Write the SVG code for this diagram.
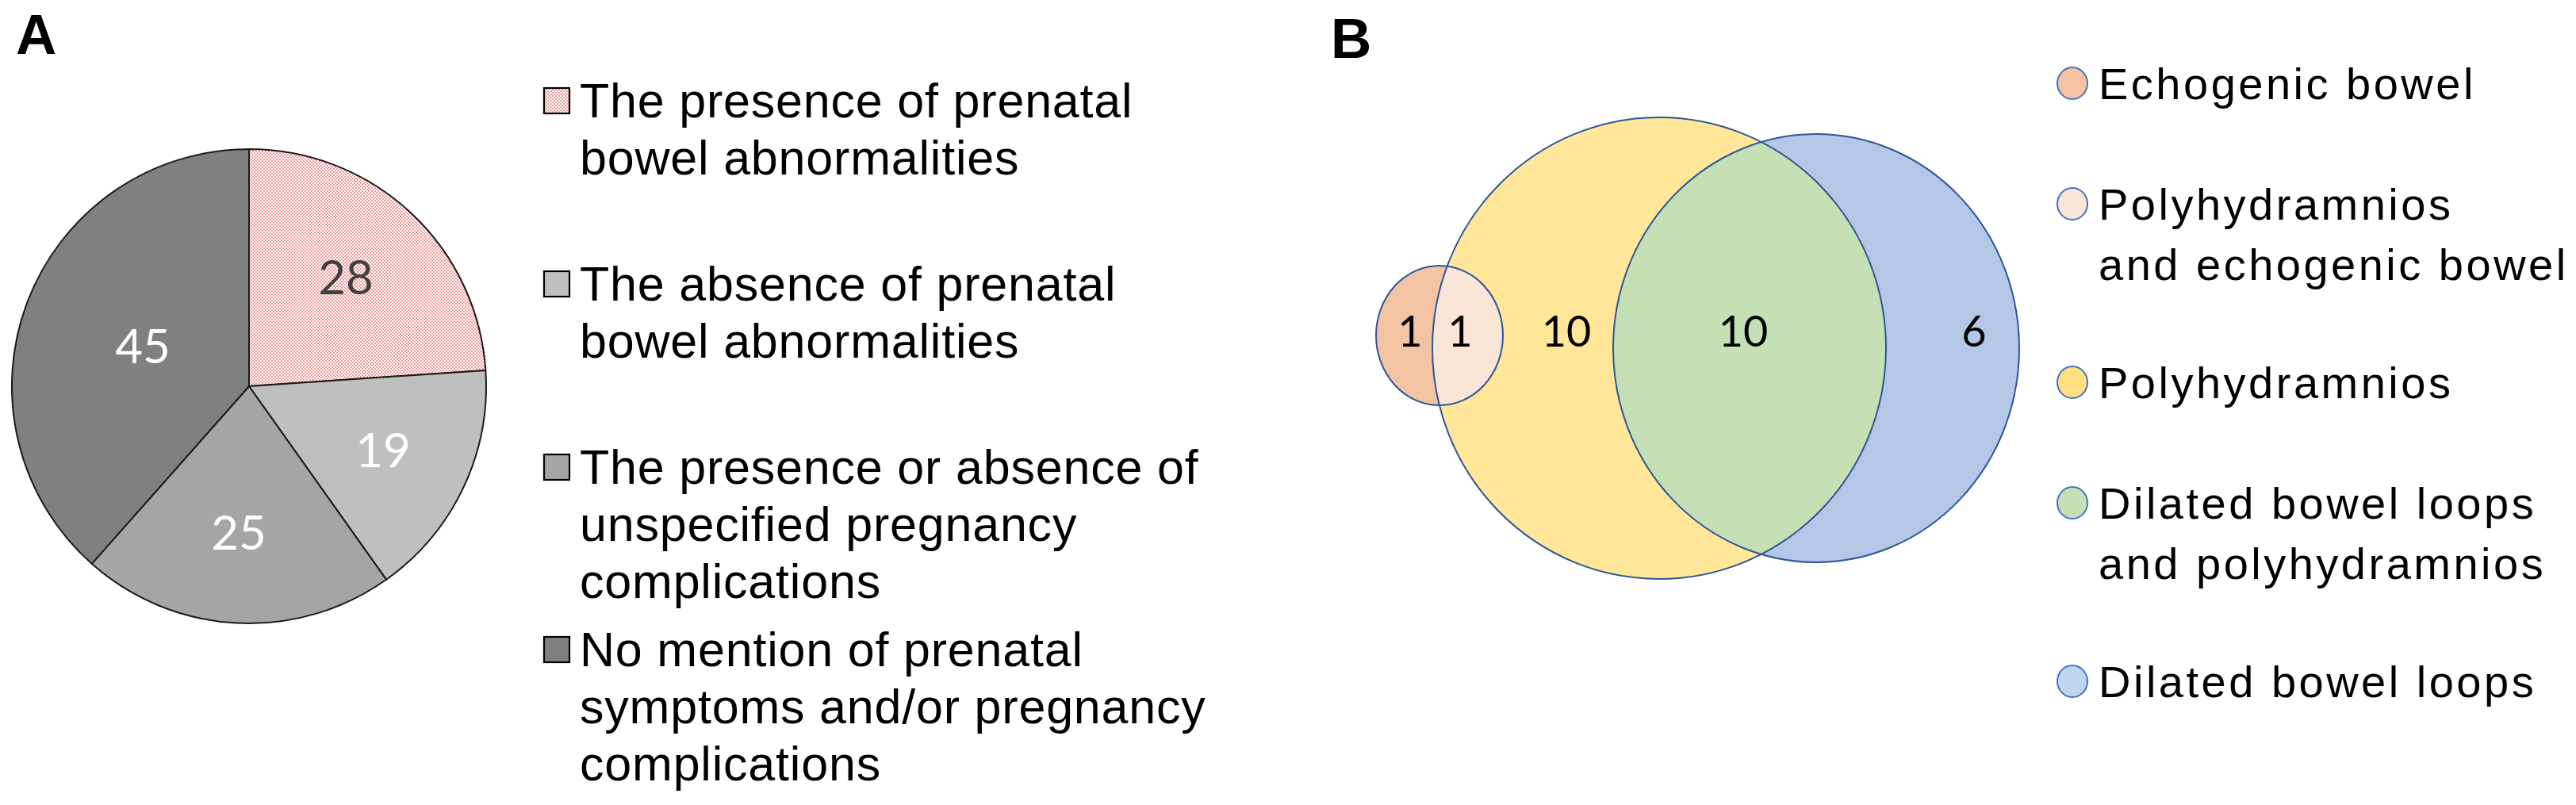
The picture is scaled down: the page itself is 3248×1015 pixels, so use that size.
<svg xmlns="http://www.w3.org/2000/svg" width="3248" height="1015" viewBox="0 0 3248 1015">
<style>
.panel{font-family:"Liberation Sans",Arial,sans-serif;font-weight:bold;font-size:71px;fill:#000}
.legA{font-family:"Liberation Sans",Arial,sans-serif;font-size:61px;letter-spacing:0.8px;fill:#000}
.legB{font-family:"Liberation Sans",Arial,sans-serif;font-size:56px;letter-spacing:3.5px;fill:#000}
.pielab{font-family:Lato,"Open Sans",sans-serif;font-size:60px;text-anchor:middle}
.vlab{font-family:Lato,"Open Sans",sans-serif;font-size:54px;text-anchor:middle;fill:#000}
.slice{stroke:#1a1a1a;stroke-width:2;stroke-linejoin:round}
.sw{stroke:#000;stroke-width:2.2}
.vline{fill:none;stroke:#2f5597;stroke-width:2}
.lc{stroke:#4472c4;stroke-width:2}
</style>
<defs>
<pattern id="chk" width="4" height="4" patternUnits="userSpaceOnUse">
<rect width="4" height="4" fill="#ffffff"/>
<rect x="0" y="0" width="2" height="2" fill="#ef9a9a"/>
<rect x="2" y="2" width="2" height="2" fill="#ef9a9a"/>
</pattern>
<clipPath id="clipBlue"><ellipse cx="2290" cy="439" rx="256" ry="270"/></clipPath>
<clipPath id="clipYellow"><ellipse cx="2092" cy="439" rx="286" ry="291"/></clipPath>
</defs>
<rect width="3248" height="1015" fill="#fff"/>

<g id="panel-A-label"><text class="panel" x="20" y="68">A</text></g>

<g id="pie">
<path id="slice-28" class="slice" fill="url(#chk)" d="M314,487 L314,188 A299,299 0 0,1 612.3,466.9 Z"/>
<path id="slice-19" class="slice" fill="#bfbfbf" d="M314,487 L612.3,466.9 A299,299 0 0,1 487.1,730.8 Z"/>
<path id="slice-25" class="slice" fill="#a5a5a5" d="M314,487 L487.1,730.8 A299,299 0 0,1 115.7,710.8 Z"/>
<path id="slice-45" class="slice" fill="#808080" d="M314,487 L115.7,710.8 A299,299 0 0,1 314,188 Z"/>
<text class="pielab" x="436" y="371" fill="#404040">28</text>
<text class="pielab" x="180" y="458" fill="#fff">45</text>
<text class="pielab" x="483" y="589" fill="#fff">19</text>
<text class="pielab" x="301" y="693" fill="#fff">25</text>
</g>

<g id="legend-A">
<g id="legA-1"><rect class="sw" x="686" y="111" width="32" height="32" fill="url(#chk)"/>
<text class="legA" x="731" y="148">The presence of prenatal</text>
<text class="legA" x="731" y="220">bowel abnormalities</text></g>
<g id="legA-2"><rect class="sw" x="686" y="342" width="32" height="32" fill="#bfbfbf"/>
<text class="legA" x="731" y="379">The absence of prenatal</text>
<text class="legA" x="731" y="451">bowel abnormalities</text></g>
<g id="legA-3"><rect class="sw" x="686" y="573" width="32" height="32" fill="#a5a5a5"/>
<text class="legA" x="731" y="610">The presence or absence of</text>
<text class="legA" x="731" y="682">unspecified pregnancy</text>
<text class="legA" x="731" y="754">complications</text></g>
<g id="legA-4"><rect class="sw" x="686" y="803" width="32" height="32" fill="#808080"/>
<text class="legA" x="731" y="840">No mention of prenatal</text>
<text class="legA" x="731" y="912">symptoms and/or pregnancy</text>
<text class="legA" x="731" y="984">complications</text></g>
</g>

<g id="panel-B-label"><text class="panel" x="1678" y="73">B</text></g>

<g id="venn">
<ellipse id="polyhydramnios" cx="2092" cy="439" rx="286" ry="291" fill="#ffe699"/>
<ellipse id="dilated" cx="2290" cy="439" rx="256" ry="270" fill="#b4c7e7"/>
<ellipse id="dilated-poly" cx="2092" cy="439" rx="286" ry="291" fill="#c5e0b4" clip-path="url(#clipBlue)"/>
<ellipse id="echogenic" cx="1815" cy="423" rx="80" ry="88" fill="#f4c3a4"/>
<ellipse id="poly-echo" cx="1815" cy="423" rx="80" ry="88" fill="#fbe5d6" clip-path="url(#clipYellow)"/>
<ellipse class="vline" cx="2092" cy="439" rx="286" ry="291"/>
<ellipse class="vline" cx="2290" cy="439" rx="256" ry="270"/>
<ellipse class="vline" cx="1815" cy="423" rx="80" ry="88"/>
<text class="vlab" x="1778" y="437">1</text>
<text class="vlab" x="1841" y="437">1</text>
<text class="vlab" x="1975" y="437">10</text>
<text class="vlab" x="2198" y="437">10</text>
<text class="vlab" x="2489" y="437">6</text>
</g>

<g id="legend-B">
<g id="legB-1"><ellipse class="lc" cx="2613" cy="105" rx="19" ry="20" fill="#f5c2a2"/>
<text class="legB" x="2646" y="125">Echogenic bowel</text></g>
<g id="legB-2"><ellipse class="lc" cx="2613" cy="257" rx="19" ry="20" fill="#fbe5d6"/>
<text class="legB" x="2646" y="277">Polyhydramnios</text>
<text class="legB" x="2646" y="353">and echogenic bowel</text></g>
<g id="legB-3"><ellipse class="lc" cx="2613" cy="482" rx="19" ry="20" fill="#ffdf80"/>
<text class="legB" x="2646" y="502">Polyhydramnios</text></g>
<g id="legB-4"><ellipse class="lc" cx="2613" cy="634" rx="19" ry="20" fill="#c5e0b4"/>
<text class="legB" x="2646" y="654">Dilated bowel loops</text>
<text class="legB" x="2646" y="730">and polyhydramnios</text></g>
<g id="legB-5"><ellipse class="lc" cx="2613" cy="859" rx="19" ry="20" fill="#bdd7ee"/>
<text class="legB" x="2646" y="879">Dilated bowel loops</text></g>
</g>
<g id="connectors"/>
</svg>
